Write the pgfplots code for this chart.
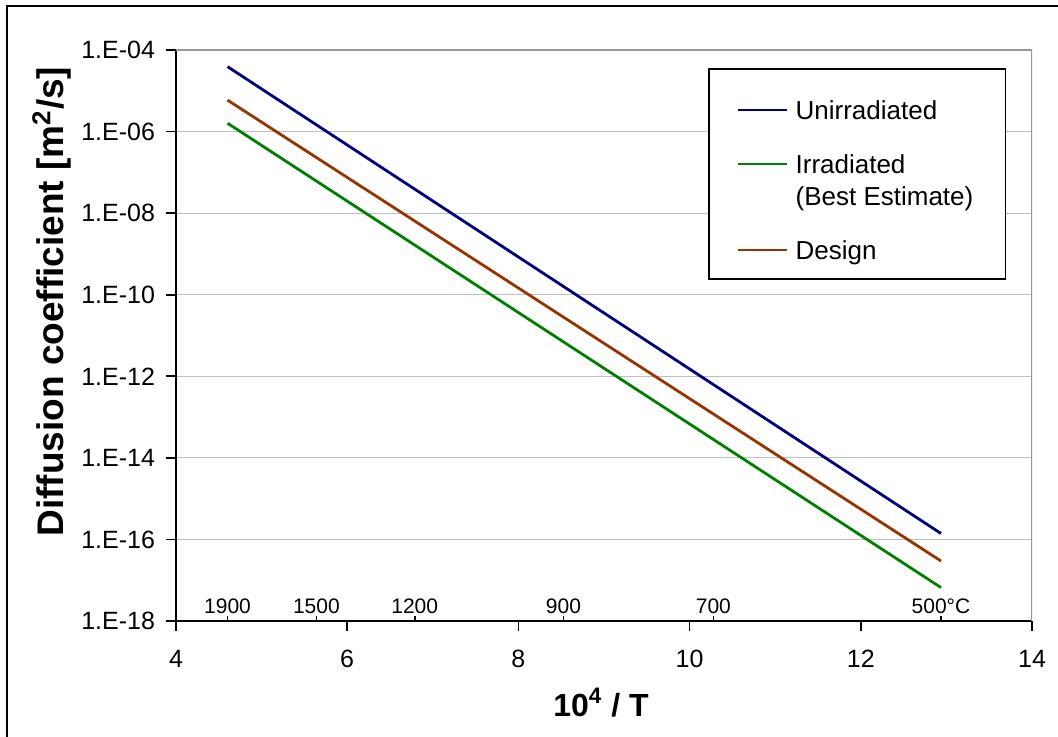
\documentclass[border=0pt]{standalone}
\usepackage{fontspec}
\setmainfont{Liberation Sans}
\usepackage{pgfplots}
\pgfplotsset{compat=1.18}
\definecolor{cUn}{HTML}{000080}
\definecolor{cIr}{HTML}{008000}
\definecolor{cDe}{HTML}{993300}
\begin{document}
\begin{tikzpicture}
\useasboundingbox (-88pt,-58pt) rectangle (441pt,310.5pt);
\draw[line width=1pt] (-84.5pt,-60pt) -- (-84.5pt,307.5pt) -- (445pt,307.5pt);
\begin{axis}[
  scale only axis, width=428pt, height=285.5pt,
  ymode=log, xmin=4, xmax=14, ymin=1e-18, ymax=1e-4,
  axis x line*=bottom, axis y line*=left,
  axis line style={black, line width=0.8pt},
  xtick={4,6,8,10,12,14},
  ytick={1e-18,1e-16,1e-14,1e-12,1e-10,1e-8,1e-6,1e-4},
  yticklabels={1.E-18,1.E-16,1.E-14,1.E-12,1.E-10,1.E-08,1.E-06,1.E-04},
  yminorticks=false, xminorticks=false,
  tick align=outside, major tick length=5pt,
  tick style={black, line width=0.8pt},
  ymajorgrids, grid style={black!25, line width=0.6pt},
  /pgf/number format/assume math mode=true,
  tick label style={font=\fontsize{12.5}{15}\selectfont},
  yticklabel style={xshift=-2pt},
  xticklabel style={yshift=-6pt},
  extra x ticks={4.6024,5.6398,6.7889,8.5259,10.2775,12.9366},
  extra x tick labels={1900,1500,1200,900,700,500°C},
  extra x tick style={tick align=inside, major tick length=2.5pt,
     tick label style={font=\fontsize{10.5}{12}\selectfont, anchor=base, yshift=10pt}},
  xlabel={\textbf{10\textsuperscript{4} / T}},
  xlabel style={font=\fontsize{16}{19}\selectfont, at={(axis description cs:0.4965,-0.1664)}, anchor=base},
  ylabel={\textbf{Diffusion coefficient [m\textsuperscript{2}/s]}},
  ylabel style={font=\fontsize{18.5}{22}\selectfont, at={(axis description cs:-0.132,0.5595)}, anchor=base},
  legend style={at={(rel axis cs:0.6215,0.9685)}, anchor=north west, draw=black, line width=0.8pt, fill=white,
     inner xsep=14pt, inner ysep=3pt, row sep=7pt, column sep=1.5pt,
     nodes={inner sep=2pt, text depth=, font=\fontsize{13}{16}\selectfont},
     cells={anchor=base west}},
  legend image code/.code={\draw[#1] (0pt,4.6pt) -- (24.5pt,4.6pt);},
]
\draw[black!40, line width=0.8pt] (rel axis cs:0,1) -- (rel axis cs:1,1) -- (rel axis cs:1,0);
\addplot[cUn, line width=1.4pt] coordinates {(4.6024,3.9e-5) (12.9366,1.4e-16)};
\addlegendentry{\begin{tabular}[t]{@{}l@{}}\rule{0pt}{20.2pt}Unirradiated\end{tabular}}
\addplot[cIr, line width=1.4pt] coordinates {(4.6024,1.6e-6) (12.9366,6.6e-18)};
\addlegendentry{\begin{tabular}[t]{@{}l@{}}Irradiated\\(Best Estimate)\end{tabular}\hspace{2.5pt}}
\addplot[cDe, line width=1.4pt] coordinates {(4.6024,5.9e-6) (12.9366,2.96e-17)};
\addlegendentry{\begin{tabular}[t]{@{}l@{}}Design\end{tabular}}
\end{axis}
\end{tikzpicture}
\end{document}
